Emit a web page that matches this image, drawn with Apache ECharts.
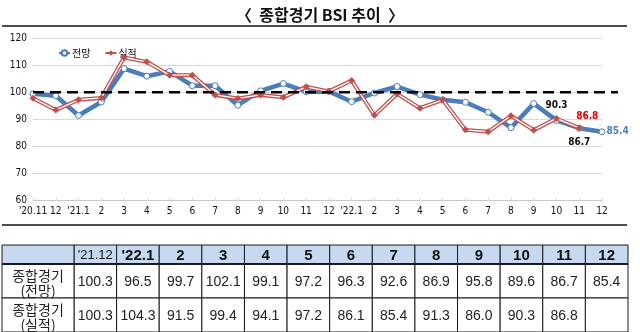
<!DOCTYPE html>
<html>
<head>
<meta charset="utf-8">
<script src="https://cdn.jsdelivr.net/npm/echarts@6/dist/echarts.min.js"></script>
<style>
  html, body { margin: 0; padding: 0; background: #fff; }
  #chart { width: 640px; height: 332px; }
</style>
</head>
<body>
<div id="chart"></div>
<script>
// Monthly composite BSI: outlook (전망) and actual (실적)
const categories = ["'20.11", "12", "'21.1", "2", "3", "4", "5", "6", "7", "8", "9", "10", "11", "12",
                    "'22.1", "2", "3", "4", "5", "6", "7", "8", "9", "10", "11", "12"];
const outlook = [99.4, 98.7, 91.4, 96.4, 108.7, 105.9, 107.7, 102.4, 102.4, 95.2, 100.5, 103.2, 100.2,
                 100.3, 96.5, 99.7, 102.1, 99.1, 97.2, 96.3, 92.6, 86.9, 95.8, 89.6, 86.7, 85.4];
const actual = [97.8, 93.4, 97.2, 97.9, 112.8, 111.2, 106.3, 106.3, 99.0, 97.7, 99.0, 98.1, 102.0,
                100.3, 104.3, 91.5, 99.4, 94.1, 97.2, 86.1, 85.4, 91.3, 86.0, 90.3, 86.8, null];
const baseline = 100;
const yMin = 60, yMax = 120, yStep = 10;

// Table: the last 13 months of both series
const tableCols = ["'21.12", "'22.1", "2", "3", "4", "5", "6", "7", "8", "9", "10", "11", "12"];
const rowLabels = ["종합경기\n(전망)", "종합경기\n(실적)"];
const tableOutlook = outlook.slice(-tableCols.length);
const tableActual = actual.slice(-tableCols.length);

const BLUE = '#4a7dbb';
const RED = '#c0504d';
const NARROW = "'DejaVu Sans Condensed', 'Liberation Sans Narrow', sans-serif";
const KR = "'Noto Sans CJK KR', sans-serif";

// point labels on selected months
const outlookLabels = {
  24: { position: 'bottom', distance: 6, color: '#111' },
  25: { position: 'right', distance: 1, color: BLUE }
};
const actualLabels = {
  23: { position: 'top', distance: 5, color: '#111' },
  24: { position: 'top', distance: 3, offset: [8, 0], color: '#e00000' }
};
function withLabels(values, labels) {
  return values.map((v, i) => {
    if (!labels[i]) return v;
    return {
      value: v,
      label: Object.assign({ show: true, fontSize: 10, fontWeight: 'bold', fontFamily: NARROW,
                             formatter: p => p.value.toFixed(1) }, labels[i])
    };
  });
}

const HEAD_H = 19, ROW_H = 34, LABEL_W = 72;
function renderTable(params, api) {
  const i = api.value(0);
  const cx = api.coord([i, 0])[0];
  const w = api.size([1, 0])[0];
  const top = params.coordSys.y;
  const x0 = cx - w / 2;
  const border = { stroke: '#1a1a1a', lineWidth: 1 };
  const children = [];
  const cell = (x, y, cw, ch, fill) => children.push({
    type: 'rect', shape: { x: x, y: y, width: cw, height: ch },
    style: Object.assign({ fill: fill }, border)
  });
  const text = (t, x, y, font) => children.push({
    type: 'text', z2: 10,
    style: Object.assign({ text: t, x: x, y: y, align: 'center', verticalAlign: 'middle', fill: '#111' }, font)
  });
  // header
  cell(x0, top, w, HEAD_H, '#c6d9f1');
  text(tableCols[i], cx, top + HEAD_H / 2 + 1,
       i === 0 ? { fontSize: 13, fontFamily: "'Liberation Sans', sans-serif" }
               : { fontSize: 15, fontWeight: 'bold', fontFamily: "'Liberation Sans', sans-serif" });
  // body rows
  const rows = [tableOutlook[i], tableActual[i]];
  rows.forEach((v, r) => {
    const y = top + HEAD_H + r * ROW_H;
    cell(x0, y, w, ROW_H, '#fff');
    if (v != null) text(v.toFixed(1), cx, y + ROW_H / 2 + 1, { fontSize: 14, fontFamily: "'Liberation Sans', sans-serif", fill: '#222' });
  });
  if (i === 0) {
    const lx = params.coordSys.x - LABEL_W;
    cell(lx, top, LABEL_W, HEAD_H, '#c6d9f1');
    rowLabels.forEach((t, r) => {
      const y = top + HEAD_H + r * ROW_H;
      cell(lx, y, LABEL_W, ROW_H, '#fff');
      text(t, lx + LABEL_W / 2, y + ROW_H / 2 + 2, { fontSize: 14, lineHeight: 14.5, fontFamily: KR, fill: '#222' });
    });
  }
  // thicker line under the header
  children.push({ type: 'line', z2: 5, shape: { x1: x0 - (i === 0 ? LABEL_W : 0), y1: top + HEAD_H, x2: x0 + w, y2: top + HEAD_H },
                  style: { stroke: '#1a1a1a', lineWidth: 2 } });
  return { type: 'group', children: children };
}

const chart = echarts.init(document.getElementById('chart'), null, { renderer: 'canvas' });
chart.setOption({
  animation: false,
  backgroundColor: '#fff',
  title: {
    text: '〈  종합경기 BSI 추이  〉',
    left: 'center', top: 2,
    textStyle: { fontSize: 16, fontWeight: 'bold', fontFamily: KR, color: '#111' }
  },
  legend: {
    data: ['전망', '실적'],
    left: 53, top: 43,
    itemWidth: 11, itemHeight: 7, itemGap: 14,
    textStyle: { fontSize: 10, fontFamily: KR, color: '#111', padding: [0, 0, 0, -3] }
  },
  graphic: [
    { type: 'line', shape: { x1: 2, y1: 26, x2: 627, y2: 26 }, style: { stroke: '#111', lineWidth: 1.5 } },
    { type: 'line', shape: { x1: 2, y1: 225, x2: 627, y2: 225 }, style: { stroke: '#111', lineWidth: 1.5 } }
  ],
  grid: [
    { left: 33, right: 38, top: 38, height: 162.6 },
    { left: 33, right: 22, top: 38, height: 162.6 },
    { left: 2 + LABEL_W, right: 12, top: 245, height: 87 }
  ],
  xAxis: [
    {
      gridIndex: 0, type: 'category', data: categories, boundaryGap: false,
      axisLine: { lineStyle: { color: '#c8c8c8' } },
      axisTick: { inside: true, length: 3, lineStyle: { color: '#dcdcdc' } },
      axisLabel: { fontSize: 10, fontFamily: NARROW, color: '#111', margin: 6, interval: 0 }
    },
    { gridIndex: 1, type: 'value', min: 0, max: 1, show: false },
    { gridIndex: 2, type: 'category', data: tableCols, show: false }
  ],
  yAxis: [
    {
      gridIndex: 0, type: 'value', min: yMin, max: yMax, interval: yStep,
      axisLine: { show: false }, axisTick: { show: false },
      splitLine: { lineStyle: { color: '#d9d9d9' } },
      axisLabel: { fontSize: 10, fontFamily: NARROW, color: '#111', margin: 6 }
    },
    { gridIndex: 1, type: 'value', min: yMin, max: yMax, show: false },
    { gridIndex: 2, type: 'value', min: 0, max: 1, show: false }
  ],
  series: [
    {
      name: '전망', type: 'line', xAxisIndex: 0, yAxisIndex: 0, z: 2,
      data: withLabels(outlook, outlookLabels),
      lineStyle: { color: BLUE, width: 4.5 },
      itemStyle: { color: '#fff', borderColor: BLUE, borderWidth: 1 },
      symbol: 'circle', symbolSize: 6, showSymbol: true
    },
    {
      name: '실적', type: 'line', xAxisIndex: 0, yAxisIndex: 0, z: 3,
      data: actual,
      lineStyle: { color: RED, width: 4 },
      itemStyle: { color: RED },
      symbol: 'diamond', symbolSize: 7, showSymbol: false
    },
    {
      name: '실적 안쪽선', type: 'line', xAxisIndex: 0, yAxisIndex: 0, z: 4, silent: true,
      data: actual,
      lineStyle: { color: '#fff', width: 1.4 },
      symbol: 'none'
    },
    {
      name: '실적 표지', type: 'line', xAxisIndex: 0, yAxisIndex: 0, z: 5, silent: true,
      data: withLabels(actual, actualLabels),
      lineStyle: { width: 0, opacity: 0 },
      itemStyle: { color: RED },
      symbol: 'diamond', symbolSize: 7
    },
    {
      name: '기준선', type: 'line', xAxisIndex: 1, yAxisIndex: 1, z: 6, silent: true,
      data: [[0, baseline], [1, baseline]],
      symbol: 'none',
      lineStyle: { color: '#000', width: 2.6, type: [11, 6] }
    },
    {
      name: '표', type: 'custom', xAxisIndex: 2, yAxisIndex: 2, silent: true,
      data: tableCols.map((c, i) => [i]),
      encode: { x: 0 },
      renderItem: renderTable,
      clip: false
    }
  ]
});
</script>
</body>
</html>
